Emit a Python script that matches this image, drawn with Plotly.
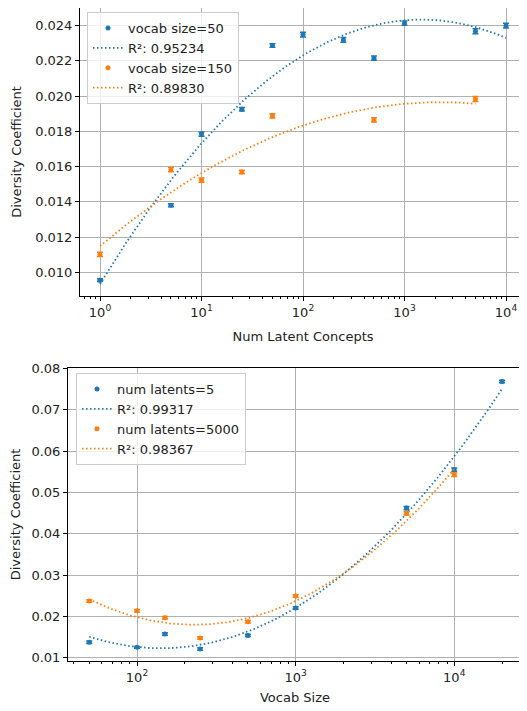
import numpy as np
import plotly.graph_objects as go

BLUE = "#1f77b4"
ORANGE = "#ff7f0e"

# ---- Top panel data: diversity vs number of latent concepts ----
latents_v50 = [1, 5, 10, 25, 50, 100, 250, 500, 1000, 5000, 10000]
div_v50 = [0.00956, 0.01381, 0.01785, 0.01926, 0.02287, 0.02349, 0.02319, 0.02215, 0.02414, 0.02368, 0.02400]
err_v50 = [0.00008, 0.00008, 0.00012, 0.00010, 0.00010, 0.00014, 0.00014, 0.00012, 0.00012, 0.00014, 0.00014]
latents_v150 = [1, 5, 10, 25, 50, 500, 5000]
div_v150 = [0.01102, 0.01583, 0.01524, 0.01570, 0.01888, 0.01865, 0.01984]
err_v150 = [0.00012, 0.00012, 0.00012, 0.00010, 0.00012, 0.00012, 0.00014]
r2_top = ["0.95234", "0.89830"]

# ---- Bottom panel data: diversity vs vocab size ----
vocab_l5 = [50, 100, 150, 250, 500, 1000, 5000, 10000, 20000]
div_l5 = [0.01371, 0.01250, 0.01573, 0.01210, 0.01540, 0.02202, 0.04621, 0.05548, 0.07685]
err_l5 = [0.0003, 0.0002, 0.0003, 0.0003, 0.0003, 0.0003, 0.0004, 0.0004, 0.0003]
vocab_l5000 = [50, 100, 150, 250, 500, 1000, 5000, 10000]
div_l5000 = [0.02371, 0.02137, 0.01968, 0.01476, 0.01871, 0.02492, 0.04492, 0.05427]
err_l5000 = [0.0003, 0.0003, 0.0003, 0.0003, 0.0003, 0.0003, 0.0004, 0.0004]
r2_bottom = ["0.99317", "0.98367"]

top_xticks = [1, 10, 100, 1000, 10000]
top_xtext = ["10<sup>0</sup>", "10<sup>1</sup>", "10<sup>2</sup>", "10<sup>3</sup>", "10<sup>4</sup>"]
bot_xticks = [100, 1000, 10000]
bot_xtext = ["10<sup>2</sup>", "10<sup>3</sup>", "10<sup>4</sup>"]


def quad_fit(x, y):
    lx = np.log10(np.asarray(x, float))
    c = np.polyfit(lx, np.asarray(y, float), 2)
    gx = np.linspace(lx.min(), lx.max(), 200)
    return 10 ** gx, np.polyval(c, gx)


def minor_vals(lo, hi):
    out = []
    for d in range(lo, hi + 1):
        for m in range(2, 10):
            out.append(m * 10 ** d)
    return out


fig = go.Figure()
DOT = "1.5px,2.5px"


def add_series(x, y, e, color, name, r2, xa, ya, legend):
    fig.add_trace(go.Scatter(
        x=x, y=y, mode="markers", name=name, xaxis=xa, yaxis=ya, legend=legend,
        marker=dict(color=color, size=5),
        error_y=dict(type="data", array=e, color=color, thickness=1.5, width=3),
    ))
    fx, fy = quad_fit(x, y)
    fig.add_trace(go.Scatter(
        x=fx, y=fy, mode="lines", name="R²: " + r2, xaxis=xa, yaxis=ya, legend=legend,
        line=dict(color=color, width=1.8, dash=DOT),
    ))


add_series(latents_v50, div_v50, err_v50, BLUE, "vocab size=50", r2_top[0], "x", "y", "legend")
add_series(latents_v150, div_v150, err_v150, ORANGE, "vocab size=150", r2_top[1], "x", "y", "legend")
add_series(vocab_l5, div_l5, err_l5, BLUE, "num latents=5", r2_bottom[0], "x2", "y2", "legend2")
add_series(vocab_l5000, div_l5000, err_l5000, ORANGE, "num latents=5000", r2_bottom[1], "x2", "y2", "legend2")

# page body has an 8px margin; build the figure in the remaining area
OFF = 8
W, H = 527 - OFF, 711 - OFF


def px_x(p):
    return min(1.0, max(0.0, (p - OFF) / W))


def px_y(p):
    return min(1.0, max(0.0, 1 - (p - OFF) / H))


FONT = dict(family="DejaVu Sans", size=13, color="#222")

axis_common = dict(
    showline=True, linecolor="black", linewidth=1, mirror=True,
    showgrid=True, gridcolor="#b0b0b0", gridwidth=1,
    ticks="outside", ticklen=4, tickcolor="black", tickwidth=1,
    zeroline=False, tickfont=FONT, automargin=False,
)

legend_common = dict(
    bgcolor="rgba(255,255,255,0.8)", bordercolor="#cccccc", borderwidth=1,
    font=FONT, xanchor="left", yanchor="top", tracegroupgap=0,
)

fig.update_layout(
    width=W, height=H,
    margin=dict(l=0, r=0, t=0, b=0),
    paper_bgcolor="white", plot_bgcolor="white",
    font=FONT,
    xaxis=dict(
        axis_common, type="log", domain=[px_x(80), px_x(526)], anchor="y",
        range=[-0.197, 4.197], tickmode="array", tickvals=top_xticks, ticktext=top_xtext,
        minor=dict(tickmode="array", tickvals=minor_vals(-1, 4), ticks="outside", ticklen=2,
                   tickcolor="black", showgrid=False),
        title=dict(text="Num Latent Concepts", font=FONT, standoff=13),
    ),
    yaxis=dict(
        axis_common, domain=[px_y(296), px_y(8)], anchor="x",
        range=[0.00866, 0.02500], tickmode="array",
        tickvals=[0.010, 0.012, 0.014, 0.016, 0.018, 0.020, 0.022, 0.024], tickformat=".3f",
        title=dict(text="Diversity Coefficient", font=FONT, standoff=10),
    ),
    xaxis2=dict(
        axis_common, type="log", domain=[px_x(68), px_x(522)], anchor="y2",
        range=[1.565, 4.427], tickmode="array", tickvals=bot_xticks, ticktext=bot_xtext,
        minor=dict(tickmode="array", tickvals=minor_vals(1, 4), ticks="outside", ticklen=2,
                   tickcolor="black", showgrid=False),
        title=dict(text="Vocab Size", font=FONT, standoff=9),
    ),
    yaxis2=dict(
        axis_common, domain=[px_y(661), px_y(368)], anchor="x2",
        range=[0.0092, 0.0801], tickmode="array",
        tickvals=[0.01, 0.02, 0.03, 0.04, 0.05, 0.06, 0.07, 0.08], tickformat=".2f",
        title=dict(text="Diversity Coefficient", font=FONT, standoff=9),
    ),
    legend=dict(legend_common, x=px_x(87), y=px_y(12)),
    legend2=dict(legend_common, x=px_x(76), y=px_y(373)),
)

fig.write_html("out.html")
